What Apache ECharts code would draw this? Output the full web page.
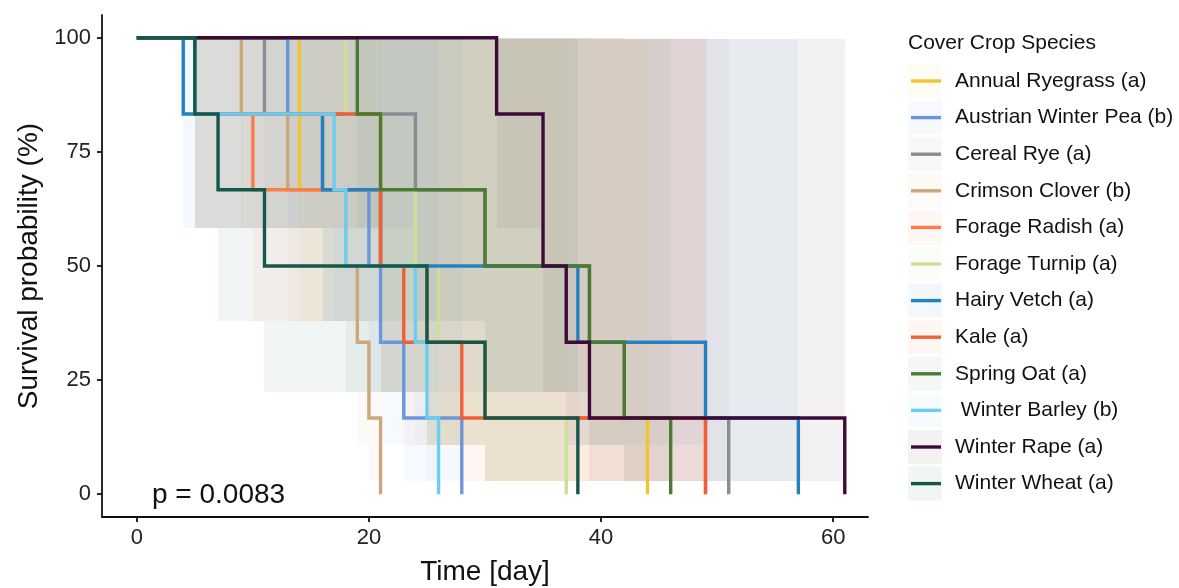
<!DOCTYPE html>
<html>
<head>
<meta charset="utf-8">
<title>Cover crop survival</title>
<script src="https://cdn.jsdelivr.net/npm/echarts@6/dist/echarts.min.js"></script>
<style>
html, body { margin: 0; padding: 0; background: #fff; }
#chart { width: 1179px; height: 588px; }
</style>
</head>
<body>
<div id="chart"></div>
<script>
// species in legend order, later ones are drawn on top
var species = ['Annual Ryegrass (a)', 'Austrian Winter Pea (b)', 'Cereal Rye (a)', 'Crimson Clover (b)',
    'Forage Radish (a)', 'Forage Turnip (a)', 'Hairy Vetch (a)', 'Kale (a)', 'Spring Oat (a)',
    ' Winter Barley (b)', 'Winter Rape (a)', 'Winter Wheat (a)'];

// day of each of the 6 deaths per species
var annualRyegrass = [14, 14, 21, 25, 30, 44];
var austrianWinterPea = [13, 16, 20, 21, 23, 28];
var cerealRye = [11, 24, 30, 39, 42, 51];
var crimsonClover = [9, 13, 18, 19, 20, 21];
var forageRadish = [5, 10, 21, 25, 30, 49];
var forageTurnip = [18, 21, 24, 26, 30, 37];
var hairyVetch = [4, 16, 21, 38, 49, 57];
var kale = [5, 21, 21, 23, 28, 49];
var springOat = [19, 21, 30, 39, 42, 46];
var winterBarley = [5, 17, 18, 24, 25, 26];
var winterRape = [31, 35, 35, 37, 39, 61];
var winterWheat = [5, 7, 11, 25, 30, 38];

var dropDays = [annualRyegrass, austrianWinterPea, cerealRye, crimsonClover, forageRadish, forageTurnip,
    hairyVetch, kale, springOat, winterBarley, winterRape, winterWheat];

// survival after 0..6 deaths and its confidence band
var survLevels = [100, 83.3, 66.7, 50, 33.3, 16.7, 0];
var ciLower = [100, 58.3, 37.9, 22.5, 10.8, 2.8, 0];
var ciUpper = [100, 100, 100, 100, 100, 99.7, 0];

var xTicks = [0, 20, 40, 60];
var yTicks = [0, 25, 50, 75, 100];
var pValueText = 'p = 0.0083';

var colors = ['#F4C430', '#6C96DC', '#878E92', '#CDA77A', '#FB7D48', '#CBDF97',
    '#2580C2', '#EF5F3A', '#4B7A33', '#6BCDF0', '#3D0B3A', '#15574B'];
var bandAlpha = 0.06;
var fontFamily = '"Liberation Sans", Arial, Helvetica, sans-serif';

var chart = echarts.init(document.getElementById('chart'));

function makeBand(color) {
    var fill = echarts.color.modifyAlpha(color, bandAlpha);
    return function (params, api) {
        var p0 = api.coord([api.value(0), api.value(3)]);
        var p1 = api.coord([api.value(1), api.value(2)]);
        var x0 = Math.round(p0[0]), x1 = Math.round(p1[0]);
        var y0 = Math.round(p0[1]), y1 = Math.round(p1[1]);
        if (x1 <= x0) return null;
        return {
            type: 'rect',
            shape: { x: x0, y: y0, width: x1 - x0, height: y1 - y0 },
            style: { fill: fill }
        };
    };
}

var series = [];
// confidence bands first
dropDays.forEach(function (days, i) {
    var rects = [];
    for (var k = 0; k < days.length - 1; k++) {
        rects.push([days[k], days[k + 1], ciLower[k + 1], ciUpper[k + 1]]);
    }
    series.push({
        type: 'custom',
        name: species[i],
        renderItem: makeBand(colors[i]),
        data: rects,
        encode: { x: [0, 1], y: [2, 3] },
        z: 1,
        silent: true,
        animation: false
    });
});
// step curves
dropDays.forEach(function (days, i) {
    var pts = [[0, survLevels[0]]];
    days.forEach(function (d, k) {
        pts.push([d, survLevels[k + 1]]);
    });
    series.push({
        type: 'line',
        name: species[i],
        step: 'end',
        data: pts,
        showSymbol: false,
        symbol: 'none',
        lineStyle: { width: 3.4, color: colors[i], join: 'miter' },
        itemStyle: { color: colors[i] },
        z: 2,
        silent: true,
        animation: false
    });
});

// legend drawn by hand: faint band box + line key
var graphics = [{
    type: 'text', x: 908, y: 43,
    style: { text: 'Cover Crop Species', fontSize: 21, fontFamily: fontFamily, fill: '#111', verticalAlign: 'middle' }
}, {
    type: 'text', x: 152, y: 495,
    style: { text: pValueText, fontSize: 28, fontFamily: fontFamily, fill: '#111', verticalAlign: 'middle' }
}];
species.forEach(function (name, i) {
    var cy = 81 + i * 36.6;
    graphics.push({
        type: 'rect', shape: { x: 908, y: cy - 17, width: 34, height: 34 },
        style: { fill: echarts.color.modifyAlpha(colors[i], bandAlpha) }
    });
    graphics.push({
        type: 'line', shape: { x1: 911, y1: cy, x2: 941, y2: cy },
        style: { stroke: colors[i], lineWidth: 3.4 }
    });
    graphics.push({
        type: 'text', x: 955, y: cy,
        style: { text: name, fontSize: 21, fontFamily: fontFamily, fill: '#111', verticalAlign: 'middle' }
    });
});

var axisLine = { show: true, onZero: false, lineStyle: { color: '#111', width: 1.8 } };

var option = {
    backgroundColor: '#fff',
    animation: false,
    textStyle: { fontFamily: fontFamily },
    grid: { left: 102, top: 15, right: 311, bottom: 71, containLabel: false, outerBoundsMode: 'none' },
    xAxis: {
        type: 'value', min: -3, max: 63,
        name: 'Time [day]', nameLocation: 'middle', nameGap: 41,
        nameTextStyle: { fontSize: 28, color: '#111', fontFamily: fontFamily },
        axisLine: axisLine,
        axisTick: { show: true, length: 5, customValues: xTicks, lineStyle: { color: '#111', width: 1.8 } },
        axisLabel: { customValues: xTicks, fontSize: 22, color: '#222', margin: 10, fontFamily: fontFamily },
        splitLine: { show: false }
    },
    yAxis: {
        type: 'value', min: -5, max: 105,
        name: 'Survival probability (%)', nameLocation: 'middle', nameGap: 58,
        nameTextStyle: { fontSize: 28, color: '#111', fontFamily: fontFamily },
        axisLine: axisLine,
        axisTick: { show: true, length: 5, customValues: yTicks, lineStyle: { color: '#111', width: 1.8 } },
        axisLabel: { customValues: yTicks, fontSize: 22, color: '#222', margin: 11, fontFamily: fontFamily },
        splitLine: { show: false }
    },
    graphic: graphics,
    series: series
};

chart.setOption(option);
</script>
</body>
</html>
